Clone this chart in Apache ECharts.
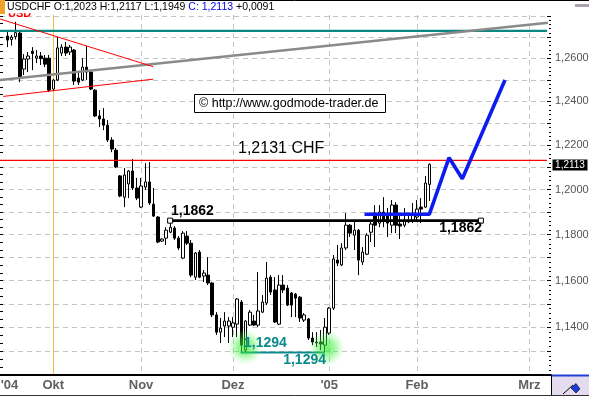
<!DOCTYPE html>
<html><head><meta charset="utf-8">
<script src="https://cdn.jsdelivr.net/npm/echarts@6/dist/echarts.min.js"></script>
<style>html,body{margin:0;padding:0;background:#fff}#c{width:589px;height:397px}</style>
</head><body><div id="c"></div>
<script>
// ---- data ----
const dates = [
 "2004-09-16","2004-09-17","2004-09-20","2004-09-21","2004-09-22","2004-09-23","2004-09-24","2004-09-27","2004-09-28","2004-09-29","2004-09-30",
 "2004-10-01","2004-10-04","2004-10-05","2004-10-06","2004-10-07","2004-10-08","2004-10-11","2004-10-12","2004-10-13","2004-10-14","2004-10-15","2004-10-18","2004-10-19","2004-10-20","2004-10-21","2004-10-22","2004-10-25","2004-10-26","2004-10-27","2004-10-28","2004-10-29",
 "2004-11-01","2004-11-02","2004-11-03","2004-11-04","2004-11-05","2004-11-08","2004-11-09","2004-11-10","2004-11-11","2004-11-12","2004-11-15","2004-11-16","2004-11-17","2004-11-18","2004-11-19","2004-11-22","2004-11-23","2004-11-24","2004-11-25","2004-11-26","2004-11-29","2004-11-30",
 "2004-12-01","2004-12-02","2004-12-03","2004-12-06","2004-12-07","2004-12-08","2004-12-09","2004-12-10","2004-12-13","2004-12-14","2004-12-15","2004-12-16","2004-12-17","2004-12-20","2004-12-21","2004-12-22","2004-12-23","2004-12-24","2004-12-27","2004-12-28","2004-12-29","2004-12-30","2004-12-31",
 "2005-01-03","2005-01-04","2005-01-05","2005-01-06","2005-01-07","2005-01-10","2005-01-11","2005-01-12","2005-01-13","2005-01-14","2005-01-17","2005-01-18","2005-01-19","2005-01-20","2005-01-21","2005-01-24","2005-01-25","2005-01-26","2005-01-27","2005-01-28","2005-01-31",
 "2005-02-01","2005-02-02","2005-02-03","2005-02-04"
];
const opens = [
 1.2705,1.2689,1.2702,1.2719,1.2550,1.2597,1.2634,1.2601,1.2611,1.2601,1.2601,
 1.2457,1.2499,1.2625,1.2653,1.2630,1.2639,1.2508,1.2499,1.2559,1.2536,1.2452,1.2333,1.2319,1.2291,1.2223,1.2177,1.2061,1.1966,1.2025,1.2083,1.2007,
 1.1922,1.2011,1.2034,1.1935,1.1878,1.1772,1.1785,1.1811,1.1829,1.1785,1.1698,1.1794,1.1763,1.1615,1.1724,1.1620,1.1624,1.1590,1.1453,1.1380,1.1406,1.1406,
 1.1401,1.1414,1.1508,1.1304,1.1410,1.1427,1.1410,1.1465,1.1504,1.1615,1.1560,1.1414,1.1581,1.1568,1.1547,1.1542,1.1529,1.1431,1.1436,1.1355,1.1334,1.1338,1.1325,
 1.1376,1.1482,1.1689,1.1668,1.1742,1.1842,1.1798,1.1820,1.1681,1.1715,1.1811,1.1895,1.1851,1.1900,1.1886,1.1842,1.1931,1.1847,1.1842,1.1864,1.1864,
 1.1878,1.1922,1.1922,1.2023
];
const closes = [
 1.2686,1.2700,1.2721,1.2508,1.2597,1.2611,1.2623,1.2611,1.2599,1.2573,1.2452,
 1.2499,1.2649,1.2653,1.2625,1.2653,1.2494,1.2489,1.2559,1.2536,1.2457,1.2333,1.2319,1.2291,1.2223,1.2182,1.2101,1.1971,1.2065,1.2083,1.2007,1.1962,
 1.2016,1.2034,1.1940,1.1882,1.1768,1.1781,1.1820,1.1833,1.1785,1.1742,1.1807,1.1763,1.1624,1.1720,1.1615,1.1633,1.1590,1.1453,1.1380,1.1397,1.1427,1.1427,
 1.1419,1.1521,1.1325,1.1427,1.1465,1.1410,1.1470,1.1508,1.1611,1.1551,1.1423,1.1581,1.1560,1.1495,1.1495,1.1525,1.1440,1.1453,1.1355,1.1338,1.1338,1.1330,1.1401,
 1.1482,1.1694,1.1676,1.1742,1.1842,1.1807,1.1820,1.1689,1.1724,1.1798,1.1847,1.1842,1.1900,1.1864,1.1851,1.1931,1.1842,1.1838,1.1864,1.1856,1.1895,
 1.1913,1.1913,1.2029,1.2113
];
const lows = [
 1.2653,1.2660,1.2689,1.2489,1.2522,1.2536,1.2545,1.2578,1.2569,1.2559,1.2443,
 1.2448,1.2494,1.2611,1.2611,1.2616,1.2476,1.2476,1.2494,1.2499,1.2452,1.2328,1.2282,1.2268,1.2214,1.2168,1.2096,1.1966,1.1922,1.1962,1.1998,1.1953,
 1.1918,1.1998,1.1931,1.1878,1.1763,1.1768,1.1755,1.1807,1.1777,1.1733,1.1694,1.1755,1.1615,1.1603,1.1611,1.1594,1.1581,1.1444,1.1368,1.1334,1.1359,1.1334,
 1.1359,1.1359,1.1294,1.1296,1.1406,1.1406,1.1401,1.1461,1.1495,1.1538,1.1419,1.1410,1.1547,1.1491,1.1444,1.1444,1.1423,1.1423,1.1347,1.1325,1.1317,1.1304,1.1294,
 1.1368,1.1474,1.1663,1.1663,1.1733,1.1790,1.1733,1.1624,1.1668,1.1711,1.1768,1.1746,1.1833,1.1833,1.1790,1.1807,1.1807,1.1781,1.1833,1.1851,1.1851,
 1.1864,1.1851,1.1918,1.1949
];
const highs = [
 1.2724,1.2710,1.2773,1.2729,1.2620,1.2630,1.2653,1.2639,1.2630,1.2616,1.2616,
 1.2503,1.2700,1.2667,1.2677,1.2663,1.2644,1.2536,1.2601,1.2658,1.2545,1.2457,1.2360,1.2369,1.2314,1.2236,1.2187,1.2065,1.2096,1.2087,1.2137,1.2052,
 1.2052,1.2118,1.2123,1.2007,1.1882,1.1785,1.1833,1.1862,1.1838,1.1794,1.1816,1.1816,1.1777,1.1724,1.1733,1.1646,1.1702,1.1594,1.1465,1.1440,1.1465,1.1444,
 1.1444,1.1525,1.1517,1.1431,1.1474,1.1453,1.1637,1.1538,1.1681,1.1624,1.1615,1.1624,1.1624,1.1581,1.1551,1.1547,1.1534,1.1461,1.1440,1.1380,1.1380,1.1389,1.1440,
 1.1487,1.1711,1.1755,1.1763,1.1895,1.1847,1.1856,1.1825,1.1746,1.1807,1.1856,1.1931,1.1931,1.1966,1.1918,1.1953,1.1944,1.1895,1.1918,1.1895,1.1940,
 1.1953,1.1962,1.2061,1.2117
];
const firstSlot = -11;            // trading-day slot of the first date (1 Oct 2004 = slot 0)
const monthLabels = ["'04","Okt","Nov","Dez","'05","Feb","Mrz"];
const monthLabelSlots = [-10.5, 0, 21, 43, 66, 87, 113.9];
const monthLineSlots = [0, 21, 43, 66, 87, 113.9];
const priceLabels = [1.14, 1.16, 1.18, 1.20, 1.22, 1.24, 1.26];
const priceGrid = [1.13,1.14,1.15,1.16,1.17,1.18,1.19,1.20,1.21,1.22,1.23,1.24,1.25,1.26,1.27,1.28];

// annotations
const resistance = 1.2131;
const topLevel = 1.2730;
const neckline = 1.1862;
const necklineSpan = [27.95, 102.3];
const lowLevel = 1.1294;
const lowSpan = [44.8, 65.0];
const grayTrend = [[-12.75, 1.2499], [118.35, 1.2768]];
const redUpper = [[-12.75, 1.2786], [23.92, 1.2561]];
const redLower = [[-11.96, 1.2423], [23.92, 1.2503]];
const projection = [[74.45, 1.1890], [89.95, 1.1890], [94.69, 1.2143], [97.85, 1.2048], [108.06, 1.2499]];
const glowPoints = [[45.9, 1.1317], [65.4, 1.1313]];
const lastClose = 1.2113;

// ---- chart ----
const X_MIN = -12.75, X_MAX = 119.07, Y_MIN = 1.12, Y_MAX = 1.2805;
const L = Math.log10;
const FONT = '"Liberation Sans", Arial, sans-serif';
const fmt = v => v.toFixed(4).replace('.', ',');
const minorTicks = []; for (let n = 560; n <= 640; n++) minorTicks.push(L(n / 500));
const leftTicks = []; for (let n = 336; n <= 384; n++) leftTicks.push(L(n / 300));

const candles = dates.map((d, i) => [i + firstSlot, opens[i], closes[i], lows[i], highs[i]]);

function lineSeries(data, color, width, z, extra) {
  return Object.assign({
    type: 'line', data: data, symbol: 'none', silent: true, z: z || 3,
    lineStyle: { color: color, width: width }, animation: false
  }, extra || {});
}

const chart = echarts.init(document.getElementById('c'), null, { renderer: 'canvas' });
chart.setOption({
  animation: false,
  backgroundColor: '#fff',
  grid: { left: 0, right: 38, top: 15, bottom: 22, containLabel: false, outerBoundsMode: 'none' },
  xAxis: {
    type: 'value', min: X_MIN, max: X_MAX,
    axisLine: { show: true, onZero: false, lineStyle: { color: '#000', width: 2 } },
    axisTick: { show: false, customValues: monthLineSlots },
    splitLine: { show: true, lineStyle: { color: '#c4c4c4', type: [5, 4], width: 1 } },
    axisLabel: {
      customValues: monthLabelSlots, margin: 4, color: '#606060', fontSize: 13, fontWeight: 'bold', fontFamily: FONT,
      formatter: v => { const i = monthLabelSlots.findIndex(s => Math.abs(s - v) < 0.01); return i >= 0 ? monthLabels[i] : ''; }
    }
  },
  yAxis: [
    { type: 'log', min: Y_MIN, max: Y_MAX, position: 'right',
      axisLine: { show: true, lineStyle: { color: '#f0c040', width: 1 } },
      axisTick: { show: false }, axisLabel: { show: false }, splitLine: { show: false } },
    { type: 'value', min: L(Y_MIN), max: L(Y_MAX), position: 'right',
      axisLine: { show: false },
      axisTick: { show: true, inside: true, length: 4, customValues: priceGrid.map(L), lineStyle: { color: '#000' } },
      axisLabel: { customValues: priceLabels.map(L), formatter: v => fmt(Math.pow(10, v)), margin: 4, color: '#555', fontSize: 11, fontFamily: FONT },
      splitLine: { show: true, lineStyle: { color: '#c4c4c4', type: [5, 4], width: 1 } } },
    { type: 'value', min: L(Y_MIN), max: L(Y_MAX), position: 'right',
      axisLine: { show: false }, axisLabel: { show: false }, splitLine: { show: false },
      axisTick: { show: true, inside: true, length: 2, customValues: minorTicks, lineStyle: { color: '#000' } } },
    { type: 'value', min: L(Y_MIN), max: L(Y_MAX), position: 'left',
      axisLine: { show: false }, axisLabel: { show: false }, splitLine: { show: false },
      axisTick: { show: true, inside: true, length: 3, customValues: leftTicks, lineStyle: { color: '#000' } } }
  ],
  series: [
    { type: 'candlestick', data: candles, encode: { x: 0, y: [1, 2, 3, 4] }, barWidth: 3, z: 2, silent: true,
      itemStyle: { color: '#fff', color0: '#000', borderColor: '#000', borderColor0: '#000', borderWidth: 1 } },
    lineSeries([[X_MIN, topLevel], [118.1, topLevel]], '#0a877f', 2.2),
    lineSeries(grayTrend, '#8a8a8a', 2.6),
    lineSeries(redUpper, '#ff0000', 1),
    lineSeries(redLower, '#ff0000', 1),
    lineSeries([[X_MIN, resistance], [118.1, resistance]], '#ff0000', 1.2),
    lineSeries([[necklineSpan[0], neckline], [necklineSpan[1], neckline]], '#000', 2.6, 3,
      { symbol: 'rect', symbolSize: 5, showSymbol: true, itemStyle: { color: '#fff', borderColor: '#000', borderWidth: 1 } }),
    lineSeries([[lowSpan[0], lowLevel], [lowSpan[1], lowLevel]], '#0a8a8a', 2),
    lineSeries(projection, '#0d1bef', 3.6, 4),
    { type: 'scatter', data: glowPoints, symbolSize: 36, silent: true, z: 5,
      itemStyle: { color: { type: 'radial', x: 0.5, y: 0.5, r: 0.5, colorStops: [
        { offset: 0, color: 'rgba(40,235,40,0.85)' }, { offset: 0.45, color: 'rgba(60,240,60,0.6)' }, { offset: 1, color: 'rgba(140,255,140,0)' } ] } } }
  ],
  graphic: [
    { type: 'line', shape: { x1: 0, y1: 0.5, x2: 589, y2: 0.5 }, style: { stroke: '#000', lineWidth: 1 }, z: 50 },
    { type: 'rect', shape: { x: 0, y: 0, width: 5, height: 14 }, style: { fill: '#f2a22a' }, z: 50 },
    { type: 'text', x: 8, y: 19.6, style: { text: 'USD', fill: '#ff0000', font: 'bold 11px ' + FONT, textVerticalAlign: 'bottom' }, z: 50 },
    { type: 'rect', shape: { x: 5, y: 1, width: 40, height: 12.3 }, style: { fill: '#fff' }, z: 51 },
    { type: 'text', x: 7, y: 7, z: 52, style: {
      text: '{a|USDCHF O:1,2023 H:1,2117 L:1,1949 }{b|C: 1,2113}{a| +0,0091}',
      font: '10.5px ' + FONT, textVerticalAlign: 'middle',
      rich: { a: { fill: '#000', font: '10.5px ' + FONT }, b: { fill: '#0000ee', font: '10.5px ' + FONT } } } },
    { type: 'rect', shape: { x: 575, y: 4, width: 14, height: 3 }, style: { fill: '#aaa2ac' }, z: 50 },
    // copyright box
    { type: 'rect', shape: { x: 194.5, y: 94.5, width: 191, height: 18 }, style: { fill: '#fff', stroke: '#000', lineWidth: 1 }, z: 60 },
    { type: 'text', x: 199, y: 103.5, style: { text: '\u00a9 http://www.godmode-trader.de', fill: '#000', font: '12.5px ' + FONT, textVerticalAlign: 'middle' }, z: 61 },
    { type: 'text', x: 238, y: 149, style: { text: '1,2131 CHF', fill: '#000', font: '16px ' + FONT, textVerticalAlign: 'middle' }, z: 61 },
    { type: 'text', x: 171, y: 211, style: { text: '1,1862', fill: '#000', font: 'bold 14px ' + FONT, textVerticalAlign: 'middle' }, z: 61 },
    { type: 'text', x: 482, y: 228, style: { text: '1,1862', fill: '#000', font: 'bold 14px ' + FONT, textAlign: 'right', textVerticalAlign: 'middle' }, z: 61 },
    { type: 'text', x: 244, y: 343, style: { text: '1,1294', fill: '#0a8a8a', font: 'bold 14px ' + FONT, textVerticalAlign: 'middle' }, z: 61 },
    { type: 'text', x: 326, y: 360, style: { text: '1,1294', fill: '#0a8a8a', font: 'bold 14px ' + FONT, textAlign: 'right', textVerticalAlign: 'middle' }, z: 61 },
    // last price tag
    { type: 'rect', shape: { x: 552.5, y: 159.5, width: 35, height: 11 }, style: { fill: '#000' }, z: 60 },
    { type: 'text', x: 570, y: 165.2, style: { text: fmt(lastClose), fill: '#fff', font: '10px ' + FONT, textAlign: 'center', textVerticalAlign: 'middle' }, z: 61 },
    // bottom border & corner box
    { type: 'line', shape: { x1: 0, y1: 395.5, x2: 589, y2: 395.5 }, style: { stroke: '#333', lineWidth: 1 }, z: 50 },
    { type: 'rect', shape: { x: 551, y: 375, width: 38, height: 20 }, style: { fill: '#e4dcee' }, z: 50 },
    { type: 'line', shape: { x1: 551, y1: 375.5, x2: 589, y2: 375.5 }, style: { stroke: '#1f3fd6', lineWidth: 2 }, z: 51 },
    { type: 'line', shape: { x1: 551.5, y1: 375, x2: 551.5, y2: 395 }, style: { stroke: '#000', lineWidth: 1 }, z: 51 },
    { type: 'line', shape: { x1: 563, y1: 394, x2: 573, y2: 385 }, style: { stroke: '#000', lineWidth: 1 }, z: 51 },
    { type: 'polygon', shape: { points: [[571, 388], [576, 383.5], [580, 389], [576, 393]] }, style: { fill: '#1a3adf', stroke: '#000', lineWidth: 0.6 }, z: 52 }
  ]
});
</script></body></html>
